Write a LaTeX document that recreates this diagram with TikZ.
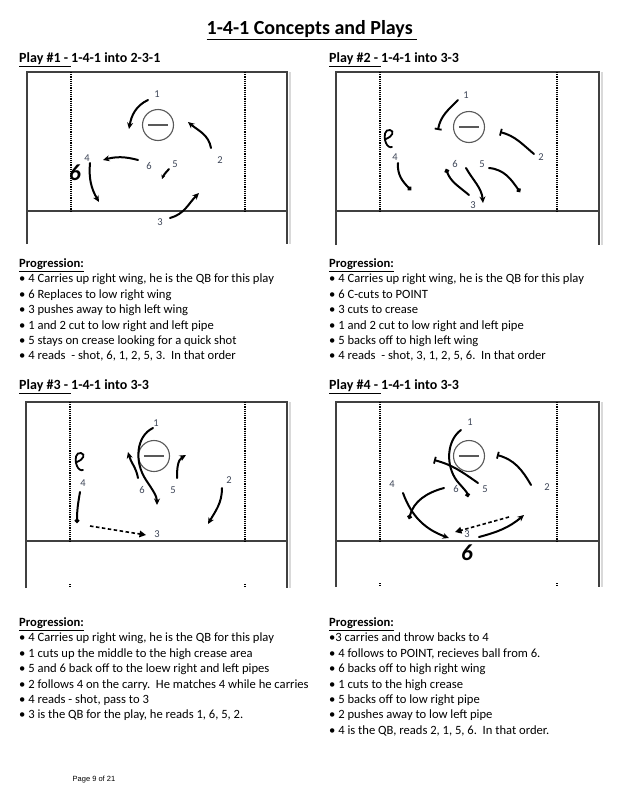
\documentclass[tikz,border=0pt]{standalone}
\usepackage{fontspec}
\setmainfont{Carlito}
\newfontfamily\footfont{Liberation Sans}
\usetikzlibrary{arrows.meta}
\definecolor{numgray}{RGB}{62,70,88}

\begin{document}
\begin{tikzpicture}[x=1pt,y=1pt,
    every node/.style={inner sep=0pt},
    field/.style={draw=black!75, line width=1.1pt},
    pipe/.style={draw=black, line width=1.5pt, dash pattern=on 1.2pt off 1pt},
    ball/.style={circle, draw=black!65, line width=1.1pt, minimum size=31pt},
    num/.style={text=numgray, font=\fontsize{10.5}{11}\selectfont},
    hand/.style={font=\fontsize{23}{23}\bfseries\itshape\selectfont},
    cut/.style={line width=2pt, line cap=round, -{Stealth[length=6.5pt,width=6pt]}},
    stop/.style={line width=2pt, line cap=round, -{Bar[width=7pt,line width=1.8pt]}},
    hold/.style={line width=2pt, line cap=round, -{Circle[length=4.5pt]}},
    pass/.style={line width=1.6pt, dash pattern=on 3.5pt off 2.5pt, -{Triangle[length=6.5pt,width=6.5pt]}},
    head/.style={anchor=west, font=\fontsize{14}{16}\bfseries\selectfont},
    prog/.style={anchor=north west, align=left, font=\fontsize{12.6}{15.4}\selectfont},
    curl/.pic={\draw[line width=1.8pt, line cap=round] (-3,-1) .. controls (3,1) and (6,7) .. (1,8)
        .. controls (-4,9) and (-6,2) .. (-3,-5) .. controls (-2,-8) and (1,-10) .. (3,-9);}]
  \fill[white] (0,0) rectangle (624,-806);
  \useasboundingbox (0,0) rectangle (624,-806);

  % fields
  \foreach \fx/\fy/\fb/\fw in {27/72/244/260, 336/72/245/263, 26/402/588/261, 336/402/587/263}{
    \draw[black!15, line width=1.5pt] (\fx+\fw+3,-\fy) -- (\fx+\fw+3,-\fb);
    \draw[field] (\fx,-\fb) -- (\fx,-\fy) -- (\fx+\fw,-\fy) -- (\fx+\fw,-\fb);
    \draw[field] (\fx,-\fy-139) -- (\fx+\fw,-\fy-139);
    \draw[pipe] (\fx+44,-\fy) -- (\fx+44,-\fy-139);
    \draw[pipe] (\fx+\fw-42,-\fy) -- (\fx+\fw-42,-\fy-139);
  }
  \foreach \fx/\fb/\fw in {26/588/261, 336/587/263}{
    \draw[pipe] (\fx+44,-\fb+4) -- (\fx+44,-\fb);
    \draw[pipe] (\fx+\fw-42,-\fb+4) -- (\fx+\fw-42,-\fb);
  }

  % titles
  \node[font=\fontsize{20}{22}\bfseries\selectfont] (title) at (312,-30) {\underline{1-4-1 Concepts and Plays\ }};
  \node[head] (h1) at (19,-60) {\underline{Play \#1 -\ }1-4-1 into 2-3-1};
  \node[head] (h2) at (329,-60) {\underline{Play \#2 -\ }1-4-1 into 3-3};
  \node[head] (h3) at (19,-387) {\underline{Play \#3 -\ }1-4-1 into 3-3};
  \node[head] (h4) at (329,-387) {\underline{Play \#4 -\ }1-4-1 into 3-3};

  % play 1
  \node[ball] (ball1) at (158,-125) {};
  \draw[black!65, line width=1.1pt] ([xshift=6pt]ball1.west) -- ([xshift=-6pt]ball1.east);
  \node[num] (a1) at (157,-94) {1};
  \node[num] (a2) at (220,-160) {2};
  \node[num] (a3) at (160,-222) {3};
  \node[num] (a4) at (87,-158) {4};
  \node[num] (a5) at (175,-164) {5};
  \node[num] (a6) at (149,-166) {6};
  \node[hand] (a6h) at (75,-173) {6};
  \path (148,-100) coordinate (a1s) (129,-129) coordinate (a1e)
        (211,-148) coordinate (a2s) (188,-122) coordinate (a2e)
        (170,-218) coordinate (a3s) (199,-193) coordinate (a3e)
        (90,-163) coordinate (a4s) (99,-202) coordinate (a4e)
        (169,-169) coordinate (a5s) (162,-179) coordinate (a5e)
        (138,-160) coordinate (a6s) (103,-160) coordinate (a6e);
  \draw[cut] (a1s) to[out=205,in=80] (a1e);
  \draw[cut] (a2s) to[out=100,in=-40] (a2e);
  \draw[cut] (a3s) to[out=15,in=225] (a3e);
  \draw[cut] (a4s) to[out=-95,in=120] (a4e);
  \draw[cut, -{Stealth[length=4pt,width=4pt]}] (a5s) to[out=230,in=70] (a5e);
  \draw[cut] (a6s) to[out=165,in=15] (a6e);

  % play 2
  \node[ball] (ball2) at (469,-127) {};
  \draw[black!65, line width=1.1pt] ([xshift=6pt]ball2.west) -- ([xshift=-6pt]ball2.east);
  \node[num] (b1) at (466,-95) {1};
  \node[num] (b2) at (541,-157) {2};
  \node[num] (b3) at (473,-205) {3};
  \node[num] (b4) at (395,-157) {4};
  \node[num] (b5) at (482,-164) {5};
  \node[num] (b6) at (455,-164) {6};
  \path (458,-100) coordinate (b1s) (438,-130) coordinate (b1e)
        (534,-154) coordinate (b2s) (500,-132) coordinate (b2e)
        (466,-168) coordinate (b3s) (483,-203) coordinate (b3e)
        (398,-163) coordinate (b4s) (411,-190) coordinate (b4e)
        (489,-168) coordinate (b5s) (520,-192) coordinate (b5e)
        (469,-195) coordinate (b6s) (446,-169) coordinate (b6e);
  \draw[stop] (b1s) to[out=225,in=80] (b1e);
  \draw[stop] (b2s) to[out=140,in=-15] (b2e);
  \draw[cut] (b3s) to[out=-60,in=95] (b3e);
  \draw[hold] (b4s) to[out=-95,in=135] (b4e);
  \draw[hold] (b5s) to[out=-5,in=125] (b5e);
  \draw[hold] (b6s) to[out=140,in=-70] (b6e);
  \pic at (389,-138) {curl};

  % play 3
  \node[ball] (ball3) at (154,-456) {};
  \draw[black!65, line width=1.1pt] ([xshift=6pt]ball3.west) -- ([xshift=-6pt]ball3.east);
  \node[num] (c1) at (156,-423) {1};
  \node[num] (c2) at (229,-480) {2};
  \node[num] (c3) at (157,-534) {3};
  \node[num] (c4) at (83,-483) {4};
  \node[num] (c5) at (173,-490) {5};
  \node[num] (c6) at (142,-490) {6};
  \path (153,-428) coordinate (c1s) (157,-505) coordinate (c1e)
        (222,-488) coordinate (c2s) (208,-524) coordinate (c2e)
        (80,-492) coordinate (c4s) (77,-523) coordinate (c4e)
        (177,-478) coordinate (c5s) (186,-455) coordinate (c5e)
        (138,-478) coordinate (c6s) (128,-452) coordinate (c6e)
        (90,-526) coordinate (c7s) (146,-535) coordinate (c7e);
  \draw[cut] (c1s) .. controls (136,-436) and (134,-462) .. (146,-480) .. controls (152,-489) and (157,-496) .. (c1e);
  \draw[cut] (c2s) to[out=-90,in=60] (c2e);
  \draw[hold] (c4s) to[out=-100,in=90] (c4e);
  \draw[cut] (c5s) to[out=90,in=210] (c5e);
  \draw[cut] (c6s) to[out=100,in=-75] (c6e);
  \draw[pass] (c7s) -- (c7e);
  \pic at (80,-461) {curl};

  % play 4
  \node[ball] (ball4) at (469,-456) {};
  \draw[black!65, line width=1.1pt] ([xshift=6pt]ball4.west) -- ([xshift=-6pt]ball4.east);
  \node[num] (d1) at (470,-422) {1};
  \node[num] (d2) at (547,-487) {2};
  \node[num] (d3) at (467,-534) {3};
  \node[num] (d4) at (392,-484) {4};
  \node[num] (d5) at (485,-489) {5};
  \node[num] (d6) at (456,-489) {6};
  \node[hand] (d6h) at (467,-553) {6};
  \path (461,-430) coordinate (d1s) (468,-497) coordinate (d1e)
        (531,-485) coordinate (d2s) (497,-455) coordinate (d2e)
        (479,-537) coordinate (d3s) (524,-515) coordinate (d3e)
        (403,-493) coordinate (d4s) (449,-538) coordinate (d4e)
        (478,-483) coordinate (d5s) (434,-460) coordinate (d5e)
        (444,-488) coordinate (d6s) (409,-519) coordinate (d6e)
        (509,-517) coordinate (d7s) (455,-532) coordinate (d7e);
  \draw[hold] (d1s) .. controls (447,-440) and (445,-465) .. (457,-481) .. controls (463,-488) and (467,-492) .. (d1e);
  \draw[stop] (d2s) to[out=120,in=-15] (d2e);
  \draw[cut] (d3s) to[out=15,in=220] (d3e);
  \draw[cut] (d4s) to[out=-70,in=160] (d4e);
  \draw[stop] (d5s) to[out=145,in=-15] (d5e);
  \draw[hold] (d6s) to[out=195,in=75] (d6e);
  \draw[pass] (d7s) -- (d7e);

  % progressions
  \node[prog] (p1) at (19,-258.5) {\textbf{\underline{Progression:}}\\
    • 4 Carries up right wing, he is the QB for this play\\
    • 6 Replaces to low right wing\\
    • 3 pushes away to high left wing\\
    • 1 and 2 cut to low right and left pipe\\
    • 5 stays on crease looking for a quick shot\\
    • 4 reads\ \ - shot, 6, 1, 2, 5, 3.\ \ In that order};
  \node[prog] (p2) at (329,-258.5) {\textbf{\underline{Progression:}}\\
    • 4 Carries up right wing, he is the QB for this play\\
    • 6 C-cuts to POINT\\
    • 3 cuts to crease\\
    • 1 and 2 cut to low right and left pipe\\
    • 5 backs off to high left wing\\
    • 4 reads\ \ - shot, 3, 1, 2, 5, 6.\ \ In that order};
  \node[prog] (p3) at (19,-617.5) {\textbf{\underline{Progression:}}\\
    • 4 Carries up right wing, he is the QB for this play\\
    • 1 cuts up the middle to the high crease area\\
    • 5 and 6 back off to the loew right and left pipes\\
    • 2 follows 4 on the carry.\ \ He matches 4 while he carries\\
    • 4 reads - shot, pass to 3\\
    • 3 is the QB for the play, he reads 1, 6, 5, 2.};
  \node[prog] (p4) at (329,-617.5) {\textbf{\underline{Progression:}}\\
    •3 carries and throw backs to 4\\
    • 4 follows to POINT, recieves ball from 6.\\
    • 6 backs off to high right wing\\
    • 1 cuts to the high crease\\
    • 5 backs off to low right pipe\\
    • 2 pushes away to low left pipe\\
    • 4 is the QB, reads 2, 1, 5, 6.\ \ In that order.};

  \node[font=\footfont\fontsize{7.5}{9}\selectfont] (page) at (94,-780) {Page 9 of 21};
\end{tikzpicture}
\end{document}
